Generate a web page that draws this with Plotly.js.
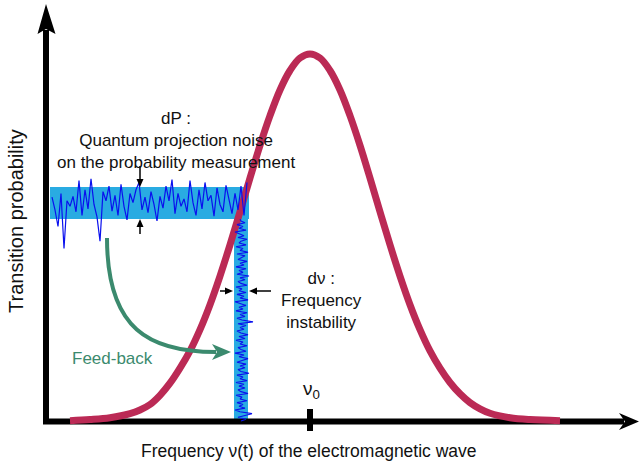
<!DOCTYPE html>
<html><head><meta charset="utf-8">
<script src="https://cdn.plot.ly/plotly-3.0.1.min.js"></script>
<style>html,body{margin:0;padding:0;background:#fff}</style>
</head><body><div id="chart" style="width:640px;height:464px"></div>
<script>
// ---- Data (detuning from nu0 in arbitrary frequency units, probability 0..1) ----
const curveDetuning = [-240,-220,-200,-180,-170,-160,-150,-140,-130,-120,-110,-100,-90,-80,-70,-60,-50,-40,-30,-20,-10,0,10,20,30,40,50,60,70,80,90,100,110,120,130,140,150,160,170,180,200,220,250];
const curveProbability = [0.001,0.004,0.009,0.020,0.030,0.045,0.070,0.103,0.144,0.191,0.249,0.317,0.395,0.480,0.570,0.662,0.751,0.832,0.902,0.955,0.989,1.000,0.989,0.955,0.902,0.832,0.751,0.662,0.570,0.480,0.395,0.317,0.249,0.191,0.144,0.105,0.074,0.050,0.033,0.021,0.009,0.004,0.001];

// probability-measurement noise (horizontal band)
const noiseDetuning = [-258,-255,-252,-249,-246,-243,-240,-237,-234,-231,-228,-225,-222,-219,-216,-213,-210,-207,-204,-201,-198,-195,-192,-189,-186,-183,-180,-177,-174,-171,-168,-165,-162,-159,-156,-153,-150,-147,-144,-141,-138,-135,-132,-129,-126,-123,-120,-117,-114,-111,-108,-105,-102,-99,-96,-93,-90,-87,-84,-81,-78,-75,-72,-69,-66,-63];
const noiseProbability = [0.610,0.575,0.530,0.620,0.470,0.600,0.585,0.612,0.570,0.655,0.560,0.630,0.578,0.660,0.590,0.556,0.490,0.625,0.600,0.640,0.572,0.615,0.560,0.645,0.585,0.548,0.620,0.595,0.630,0.650,0.575,0.610,0.568,0.625,0.590,0.545,0.612,0.580,0.640,0.600,0.658,0.565,0.620,0.585,0.605,0.570,0.655,0.595,0.560,0.630,0.578,0.650,0.600,0.615,0.558,0.635,0.590,0.570,0.642,0.598,0.565,0.620,0.575,0.640,0.560,0.650];

// frequency noise (vertical band)
const freqNoiseProbability = [0.000,0.005,0.010,0.015,0.020,0.025,0.030,0.035,0.040,0.045,0.050,0.055,0.060,0.065,0.070,0.075,0.080,0.085,0.090,0.095,0.100,0.105,0.110,0.115,0.120,0.125,0.130,0.135,0.140,0.145,0.150,0.155,0.160,0.165,0.170,0.175,0.180,0.185,0.190,0.195,0.200,0.205,0.210,0.215,0.220,0.225,0.230,0.235,0.240,0.245,0.250,0.255,0.260,0.265,0.270,0.275,0.280,0.285,0.290,0.295,0.300,0.305,0.310,0.315,0.320,0.325,0.330,0.335,0.340,0.345,0.350,0.355,0.360,0.365,0.370,0.375,0.380,0.385,0.390,0.395,0.400,0.405,0.410,0.415,0.420,0.425,0.430,0.435,0.440,0.445,0.450,0.455,0.460,0.465,0.470,0.475,0.480,0.485,0.490,0.495,0.500,0.505,0.510,0.515,0.520,0.525,0.530,0.535,0.540,0.545,0.550];
const freqNoiseDetuning = [-69,-64,-72,-66,-58,-70,-75,-65,-71,-67,
  -73,-63,-70,-68,-74,-62,-69,-72,-65,-71,
  -66,-74,-63,-70,-67,-73,-61,-69,-72,-65,
  -70,-64,-73,-68,-62,-71,-66,-75,-64,-69,
  -72,-63,-70,-67,-74,-65,-71,-62,-69,-73,
  -66,-70,-64,-72,-57,-68,-73,-65,-70,-63,
  -74,-67,-71,-64,-69,-75,-62,-70,-66,-73,
  -64,-71,-68,-74,-63,-69,-72,-65,-70,-61,
  -73,-67,-71,-64,-74,-66,-70,-63,-72,-68,
  -65,-73,-62,-70,-67,-74,-64,-71,-69,-63,
  -72,-66,-70,-75,-64,-71,-67,-73,-65,-69,
  -70];

// texts
const xTitle = "Frequency ν(t) of the electromagnetic wave";
const yTitle = "Transition probability";
const dPText = "dP :<br>Quantum projection noise<br>on the probability measurement";
const dNuText = "dν :<br>Frequency<br>instability";
const feedbackText = "Feed-back";
const nu0Text = "ν<sub>0</sub>";

// ---- helpers: page pixel -> data coordinates (plot fills the page) ----
const X = px => px - 310;
const Y = py => (421 - py) / 367;
const P = pts => pts.map((p,i)=>(i===0?'M':'L')+X(p[0])+','+Y(p[1])).join(' ') + ' Z';
const L = (x0,y0,x1,y1,w,c) => ({type:'line', layer:'above', x0:X(x0), y0:Y(y0), x1:X(x1), y1:Y(y1), line:{color:c, width:w}});
const T = pts => ({type:'path', layer:'above', path:P(pts), fillcolor:'#000', line:{width:0}});

const FONT = "Liberation Sans, Arial, sans-serif";
const crimson = '#bb2a55';
const green = '#3b8a6e';
const bandBlue = '#29abe2';
const noiseBlue = '#0a10ee';

const traces = [
  {x: curveDetuning, y: curveProbability, mode:'lines', line:{color:crimson, width:7, shape:'spline'}, hoverinfo:'skip'},
  {x: noiseDetuning, y: noiseProbability, mode:'lines', line:{color:noiseBlue, width:1.2}, hoverinfo:'skip'},
  {x: freqNoiseDetuning, y: freqNoiseProbability, mode:'lines', line:{color:noiseBlue, width:1.1}, hoverinfo:'skip'}
];

const shapes = [
  // bands
  {type:'rect', layer:'below', x0:X(50), x1:X(249), y0:Y(219), y1:Y(187), fillcolor:bandBlue, line:{width:0}},
  {type:'rect', layer:'below', x0:X(234), x1:X(248), y0:Y(421), y1:Y(219), fillcolor:bandBlue, line:{width:0}},
  // axes
  {type:'path', layer:'below', path:`M${X(46)},${Y(30)} L${X(46)},${Y(421.5)} L${X(624)},${Y(421.5)}`, line:{color:'#000', width:6}},
  {type:'path', layer:'above', path:P([[46,4],[37.5,34],[46,29],[55.5,34]]), fillcolor:'#000', line:{width:0}},
  {type:'path', layer:'above', path:P([[639,421.5],[619,413],[625,421.5],[619,430]]), fillcolor:'#000', line:{width:0}},
  // nu0 tick
  L(310,409,310,431,6,'#000'),
  // feedback arrow
  {type:'path', layer:'above', path:`M${X(107)},${Y(238)} C${X(107)},${Y(330)} ${X(150)},${Y(352)} ${X(216)},${Y(352)}`, line:{color:green, width:4}},
  {type:'path', layer:'above', path:P([[231,352],[212,344],[217,352],[212,360]]), fillcolor:green, line:{width:0}},
  // dP arrows
  L(140,166,140,181,1.5,'#000'), T([[140,187],[136.5,179],[143.5,179]]),
  L(140,225,140,234,1.5,'#000'), T([[140,219],[136.5,227],[143.5,227]]),
  // d-nu arrows
  L(220,291,227,291,1.5,'#000'), T([[233,291],[225,287.5],[225,294.5]]),
  L(255,291,271,291,1.5,'#000'), T([[249,291],[257,287.5],[257,294.5]])
];

const annotations = [
  {x:X(176), y:Y(140), xref:'x', yref:'y', text:dPText, showarrow:false, font:{family:FONT, size:17, color:'#111'}, align:'center', xanchor:'center', yanchor:'middle'},
  {x:X(321), y:Y(300), xref:'x', yref:'y', text:dNuText, showarrow:false, font:{family:FONT, size:17, color:'#111'}, align:'center', xanchor:'center', yanchor:'middle'},
  {x:X(112), y:Y(358), xref:'x', yref:'y', text:feedbackText, showarrow:false, font:{family:FONT, size:17, color:green}, xanchor:'center', yanchor:'middle'},
  {x:X(311), y:Y(390), xref:'x', yref:'y', text:nu0Text, showarrow:false, font:{family:FONT, size:19, color:'#111'}, xanchor:'center', yanchor:'middle'},
  {x:X(309), y:Y(451), xref:'x', yref:'y', text:xTitle, showarrow:false, font:{family:FONT, size:17.5, color:'#111'}, xanchor:'center', yanchor:'middle'},
  {x:X(16), y:Y(221), xref:'x', yref:'y', text:yTitle, showarrow:false, textangle:-90, font:{family:FONT, size:20, color:'#111'}, xanchor:'center', yanchor:'middle'}
];

const layout = {
  width:640, height:464,
  margin:{l:0,r:0,t:0,b:0},
  paper_bgcolor:'#fff', plot_bgcolor:'#fff',
  showlegend:false,
  xaxis:{range:[X(0), X(640)], visible:false, fixedrange:true},
  yaxis:{range:[Y(464), Y(0)], visible:false, fixedrange:true},
  shapes:shapes,
  annotations:annotations,
  font:{family:FONT}
};

Plotly.newPlot('chart', traces, layout, {staticPlot:true, displayModeBar:false});
</script>
</body></html>
